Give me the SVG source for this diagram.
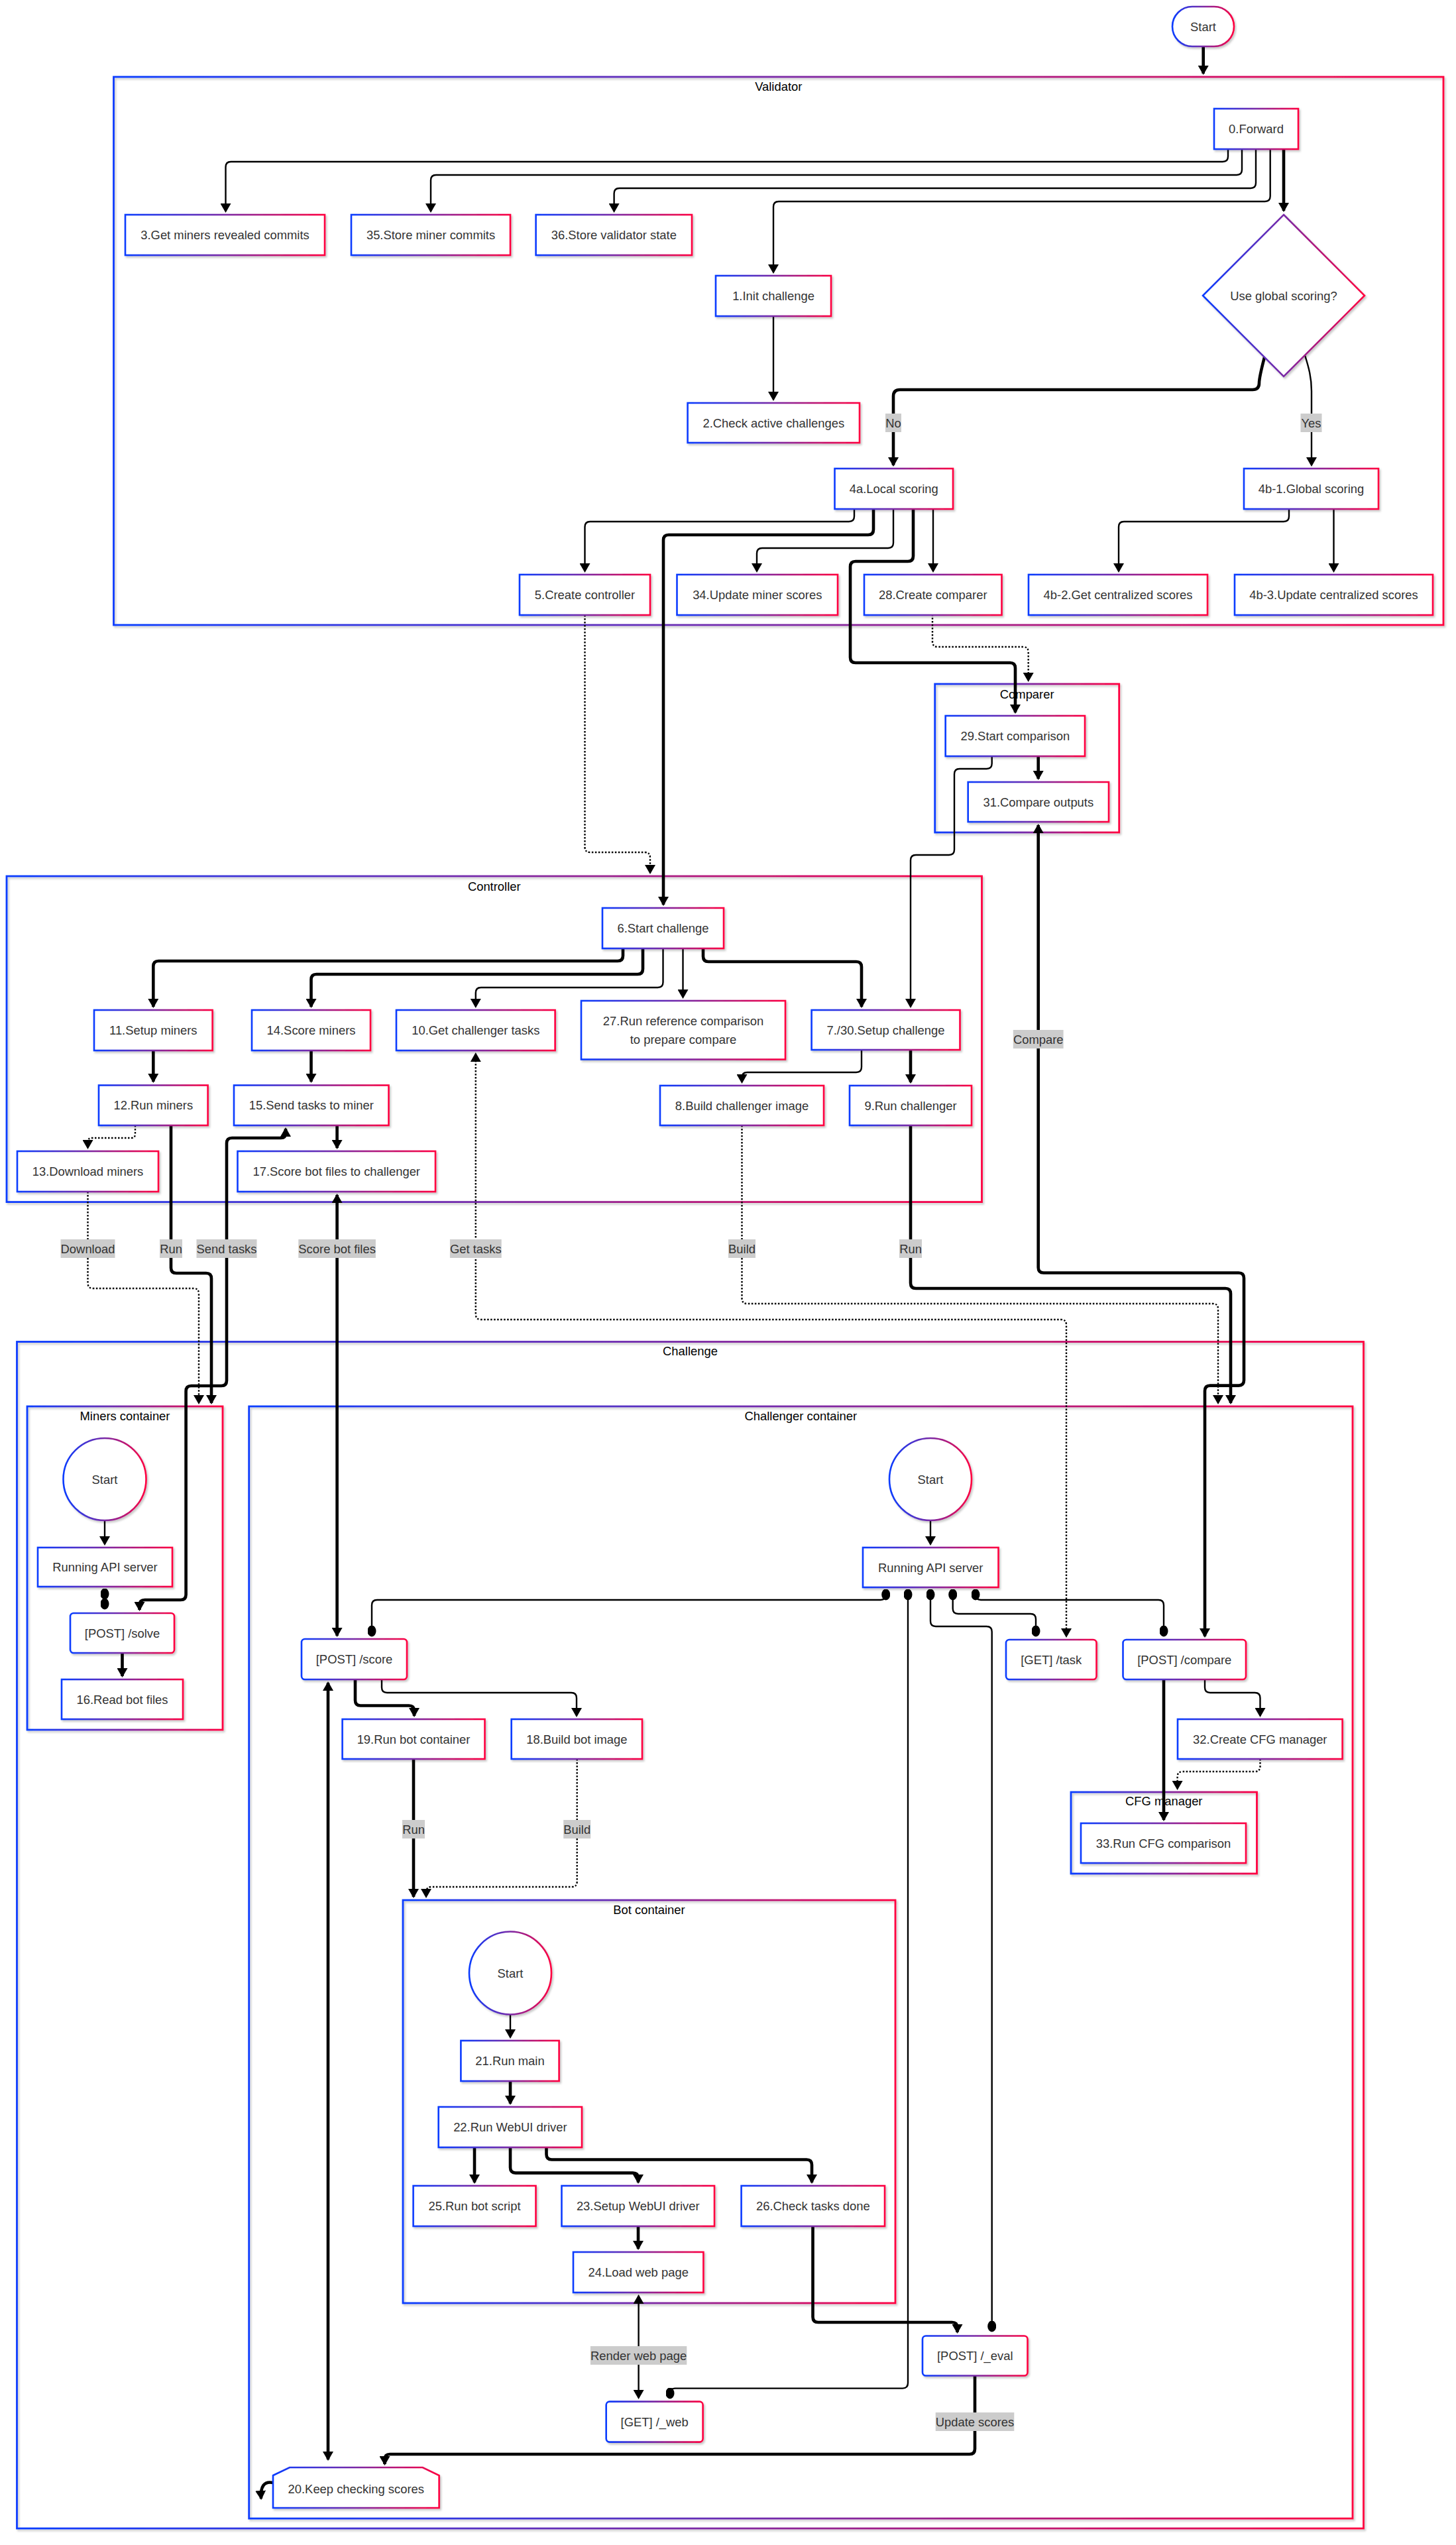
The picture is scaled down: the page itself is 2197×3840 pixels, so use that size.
<svg xmlns="http://www.w3.org/2000/svg" width="2197" height="3840" viewBox="0 0 2197 3840">
<defs>
<linearGradient id="g" x1="0" y1="0" x2="1" y2="0">
<stop offset="0" stop-color="#0a3cff"/>
<stop offset="0.5" stop-color="#7a2aa6"/>
<stop offset="1" stop-color="#ff0040"/>
</linearGradient>
<filter id="sh" x="-5%" y="-5%" width="110%" height="115%">
<feDropShadow dx="2" dy="2.5" stdDeviation="1.5" flood-color="#000" flood-opacity="0.22"/>
</filter>
<marker id="a" viewBox="0 0 14 16" refX="12" refY="8" markerWidth="14" markerHeight="16" markerUnits="userSpaceOnUse" orient="auto-start-reverse">
<path d="M0,0 L14,8 L0,16 Z" fill="#000"/>
</marker>
<marker id="o" viewBox="0 0 17 13" refX="8.5" refY="6.5" markerWidth="17" markerHeight="13" markerUnits="userSpaceOnUse" orient="auto">
<ellipse cx="8.5" cy="6.5" rx="8.5" ry="6.5" fill="#000"/>
</marker>
<style>
.n{fill:#fff;stroke:url(#g);stroke-width:2.6;filter:url(#sh)}
.c{fill:none;stroke:url(#g);stroke-width:2.8;filter:url(#sh)}
.t{font-family:'Liberation Sans',Arial,sans-serif;font-size:18.4px;fill:#333;text-anchor:middle;dominant-baseline:central}
.ct{font-family:'Liberation Sans',Arial,sans-serif;font-size:18.4px;fill:#000;text-anchor:middle;dominant-baseline:central}
.e{fill:none;stroke:#000;stroke-width:2.4}
.k{stroke-width:4.6}
.d{stroke-dasharray:2.5 2.5}
.ar{marker-end:url(#a)}
.ab{marker-start:url(#a);marker-end:url(#a)}
.oo{marker-start:url(#o);marker-end:url(#o)}
.lb{fill:#cccccc}
</style>
</defs>
<rect width="2197" height="3840" fill="#fff"/>

<!-- containers -->
<g id="validator"><rect class="c" x="171.5" y="116" width="2006.5" height="827"/><text class="ct" x="1174.75" y="130">Validator</text></g>
<g id="comparer"><rect class="c" x="1410.7" y="1032" width="278" height="224"/><text class="ct" x="1549.7" y="1047">Comparer</text></g>
<g id="controller"><rect class="c" x="10" y="1322" width="1471.5" height="491.6"/><text class="ct" x="745.75" y="1337">Controller</text></g>
<g id="challenge"><rect class="c" x="25.5" y="2024.5" width="2032" height="1790.5"/><text class="ct" x="1041.5" y="2038">Challenge</text></g>
<g id="miners-container"><rect class="c" x="41" y="2122" width="295" height="488"/><text class="ct" x="188.5" y="2136">Miners container</text></g>
<g id="challenger-container"><rect class="c" x="375.7" y="2122" width="1665.3" height="1678"/><text class="ct" x="1208.35" y="2136">Challenger container</text></g>
<g id="cfg-manager"><rect class="c" x="1616" y="2704" width="280.5" height="123"/><text class="ct" x="1756.25" y="2717.5">CFG manager</text></g>
<g id="bot-container"><rect class="c" x="608" y="2867" width="743" height="608"/><text class="ct" x="979.5" y="2881">Bot container</text></g>

<!-- connectors -->
<g id="connectors">
<path class="e k ar" d="M1815.7,70 V111"/>
<path class="e ar" d="M1853,225 V236 Q1853,244 1845,244 H348.5 Q340.5,244 340.5,252 V319"/>
<path class="e ar" d="M1874,225 V256 Q1874,264 1866,264 H658 Q650,264 650,272 V319"/>
<path class="e ar" d="M1895,225 V276 Q1895,284 1887,284 H934.6 Q926.6,284 926.6,292 V319"/>
<path class="e ar" d="M1916.7,225 V296 Q1916.7,304 1908.7,304 H1175 Q1167,304 1167,312 V411"/>
<path class="e k ar" d="M1937,225 V318"/>
<path class="e ar" d="M1167,477 V603"/>
<path class="e k ar" d="M1908,539 C1903,558 1900,570 1900,578 Q1900,588 1890,588 H1358 Q1348,588 1348,598 V702"/>
<path class="e ar" d="M1969,536 C1975,555 1979,570 1979,590 V702"/>
<path class="e ar" d="M1289,768 V779 Q1289,787 1281,787 H890.5 Q882.5,787 882.5,795 V862"/>
<path class="e k ar" d="M1318,768 V799 Q1318,807 1310,807 H1009 Q1001,807 1001,815 V1365"/>
<path class="e ar" d="M1348,768 V819 Q1348,827 1340,827 H1150 Q1142,827 1142,835 V862"/>
<path class="e k ar" d="M1378,768 V839 Q1378,847 1370,847 H1291 Q1283,847 1283,855 V992 Q1283,1000 1291,1000 H1524 Q1532,1000 1532,1008 V1075"/>
<path class="e ar" d="M1408,768 V862"/>
<path class="e ar" d="M1945,768 V779 Q1945,787 1937,787 H1696 Q1688,787 1688,795 V862"/>
<path class="e ar" d="M2012.5,768 V862"/>
<path class="e d ar" d="M1407,927 V968 Q1407,976 1415,976 H1543.7 Q1551.7,976 1551.7,984 V1027"/>
<path class="e d ar" d="M882.5,928 V1278 Q882.5,1286 890.5,1286 H973 Q981,1286 981,1294 V1317"/>
<path class="e k ar" d="M1566.7,1141 V1175"/>
<path class="e ar" d="M1496.7,1141 V1152 Q1496.7,1160 1488.7,1160 H1448 Q1440,1160 1440,1168 V1282 Q1440,1290 1432,1290 H1382 Q1374,1290 1374,1298 V1519"/>
<path class="e k ar" d="M940,1431 V1442 Q940,1450 932,1450 H239.3 Q231.3,1450 231.3,1458 V1519"/>
<path class="e k ar" d="M970,1431 V1462 Q970,1470 962,1470 H477.5 Q469.5,1470 469.5,1478 V1519"/>
<path class="e ar" d="M1000.5,1431 V1482 Q1000.5,1490 992.5,1490 H725.8 Q717.8,1490 717.8,1498 V1519"/>
<path class="e ar" d="M1030.5,1431 V1505"/>
<path class="e k ar" d="M1061,1431 V1443 Q1061,1451 1069,1451 H1292 Q1300,1451 1300,1459 V1519"/>
<path class="e ar" d="M1300,1584 V1610 Q1300,1618 1292,1618 H1127.5 Q1119.5,1618 1119.5,1626 V1633"/>
<path class="e k ar" d="M1374,1584 V1633"/>
<path class="e k ar" d="M231.3,1585 V1632"/>
<path class="e d ar" d="M204,1698 V1711 Q204,1717 198,1717 H138.5 Q132.5,1717 132.5,1723 V1732"/>
<path class="e k ar" d="M469.5,1585 V1632"/>
<path class="e k ar" d="M508.6,1698 V1732"/>
<path class="e d ar" d="M132.5,1798 V1936 Q132.5,1944 140.5,1944 H292 Q300,1944 300,1952 V2117"/>
<path class="e k ar" d="M258,1698 V1913 Q258,1921 266,1921 H311 Q319,1921 319,1929 V2117"/>
<path class="e k ab" d="M431,1703 V1710 Q431,1717 424,1717 H350 Q342,1717 342,1725 V2083 Q342,2091 334,2091 H288.6 Q280.6,2091 280.6,2099 V2406 Q280.6,2414 272.6,2414 H218.5 Q210.5,2414 210.5,2422 V2429"/>
<path class="e k ab" d="M508.6,1803 V2468"/>
<path class="e d ab" d="M717.8,1590 V1983 Q717.8,1991 725.8,1991 H1601 Q1609,1991 1609,1999 V2469"/>
<path class="e d ar" d="M1119.5,1698 V1959 Q1119.5,1967 1127.5,1967 H1830 Q1838,1967 1838,1975 V2117"/>
<path class="e k ar" d="M1374,1698 V1936 Q1374,1944 1382,1944 H1849 Q1857,1944 1857,1952 V2117"/>
<path class="e k ab" d="M1566.7,1245 V1912.5 Q1566.7,1920.5 1574.7,1920.5 H1869 Q1877,1920.5 1877,1928.5 V2082.6 Q1877,2090.6 1869,2090.6 H1826 Q1818,2090.6 1818,2098.6 V2469"/>
<path class="e ar" d="M158,2294 V2330"/>
<path class="e oo" d="M158,2405 V2420"/>
<path class="e k ar" d="M184.5,2494 V2529"/>
<path class="e ar" d="M1404,2294 V2330"/>
<path class="e oo" d="M1336.7,2406 Q1336.7,2414 1328.7,2414 H569 Q561,2414 561,2422 V2461"/>
<path class="e oo" d="M1370,2406 V3595.6 Q1370,3603.6 1362,3603.6 H1019 Q1011,3603.6 1011,3611"/>
<path class="e oo" d="M1404,2406 V2446 Q1404,2454 1412,2454 H1488.7 Q1496.7,2454 1496.7,2462 V3510"/>
<path class="e oo" d="M1437.7,2406 V2427 Q1437.7,2435 1445.7,2435 H1555 Q1563,2435 1563,2443 V2461"/>
<path class="e oo" d="M1472,2406 Q1472,2414 1480,2414 H1748 Q1756,2414 1756,2422 V2461"/>
<path class="e ar" d="M1818,2534 V2546 Q1818,2554 1826,2554 H1893.5 Q1901.5,2554 1901.5,2562 V2589"/>
<path class="e k ar" d="M1756,2534 V2746"/>
<path class="e d ar" d="M1901.5,2654 V2665 Q1901.5,2673 1893.5,2673 H1784.6 Q1776.6,2673 1776.6,2681 V2699"/>
<path class="e k ar" d="M536,2534 V2565.5 Q536,2573.5 544,2573.5 H617 Q625,2573.5 625,2581.5 V2589"/>
<path class="e ar" d="M576,2534 V2546 Q576,2554 584,2554 H862 Q870,2554 870,2562 V2589"/>
<path class="e k ar" d="M624,2654 V2862"/>
<path class="e d ar" d="M870.7,2654 V2839 Q870.7,2847 862.7,2847 H651 Q643,2847 643,2855 V2862"/>
<path class="e k ab" d="M495,2539 V3711"/>
<path class="e ar" d="M770,3040 V3074"/>
<path class="e k ar" d="M770,3140 V3174"/>
<path class="e k ar" d="M716,3240 V3293"/>
<path class="e k ar" d="M770,3240 V3270.6 Q770,3278.6 778,3278.6 H955 Q963,3278.6 963,3286.6 V3293"/>
<path class="e k ar" d="M824.5,3240 V3250.5 Q824.5,3258.5 832.5,3258.5 H1217 Q1225,3258.5 1225,3266.5 V3293"/>
<path class="e k ar" d="M963,3359 V3393"/>
<path class="e ab" d="M963.6,3464 V3618"/>
<path class="e k ar" d="M1226.5,3359 V3496 Q1226.5,3504 1234.5,3504 H1436.5 Q1444.5,3504 1444.5,3512 V3519"/>
<path class="e k ar" d="M1471,3584.5 V3695 Q1471,3703 1463,3703 H588.5 Q580.5,3703 580.5,3711 V3718"/>
<path class="e k ar" d="M412,3746 Q392,3742 394,3770"/>
</g>

<!-- edge labels -->
<g id="edge-labels">
<rect class="lb" x="1336" y="624" width="24" height="28"/><text class="t" x="1348" y="638">No</text>
<rect class="lb" x="1962.5" y="624" width="32" height="28"/><text class="t" x="1978.5" y="638">Yes</text>
<rect class="lb" x="91.5" y="1870" width="82" height="28"/><text class="t" x="132.5" y="1884">Download</text>
<rect class="lb" x="241" y="1870" width="34" height="28"/><text class="t" x="258" y="1884">Run</text>
<rect class="lb" x="296.5" y="1870" width="91" height="28"/><text class="t" x="342" y="1884">Send tasks</text>
<rect class="lb" x="450.3" y="1870" width="116.6" height="28"/><text class="t" x="508.6" y="1884">Score bot files</text>
<rect class="lb" x="678.9" y="1870" width="77.8" height="28"/><text class="t" x="717.8" y="1884">Get tasks</text>
<rect class="lb" x="1099" y="1870" width="41" height="28"/><text class="t" x="1119.5" y="1884">Build</text>
<rect class="lb" x="1357" y="1870" width="34" height="28"/><text class="t" x="1374" y="1884">Run</text>
<rect class="lb" x="1528.8" y="1554" width="75.8" height="28"/><text class="t" x="1566.7" y="1568">Compare</text>
<rect class="lb" x="607" y="2746" width="34" height="28"/><text class="t" x="624" y="2760">Run</text>
<rect class="lb" x="850.2" y="2746" width="41" height="28"/><text class="t" x="870.7" y="2760">Build</text>
<rect class="lb" x="890.9" y="3540" width="145.4" height="28"/><text class="t" x="963.6" y="3554">Render web page</text>
<rect class="lb" x="1411.7" y="3640" width="118.6" height="28"/><text class="t" x="1471" y="3654">Update scores</text>
</g>

<!-- nodes -->
<g id="start"><rect class="n" x="1769" y="10" width="93" height="60" rx="30"/><text class="t" x="1815.5" y="40">Start</text></g>
<g id="n0"><rect class="n" x="1832" y="164" width="127" height="61"/><text class="t" x="1895.5" y="194.5">0.Forward</text></g>
<g id="decision"><polygon class="n" points="1937,324 2059,446 1937,568 1815,446"/><text class="t" x="1937" y="446">Use global scoring?</text></g>
<g id="n3"><rect class="n" x="189" y="324" width="301" height="61"/><text class="t" x="339.5" y="354.5">3.Get miners revealed commits</text></g>
<g id="n35"><rect class="n" x="530" y="324" width="240" height="61"/><text class="t" x="650" y="354.5">35.Store miner commits</text></g>
<g id="n36"><rect class="n" x="808.6" y="324" width="235.4" height="61"/><text class="t" x="926.3" y="354.5">36.Store validator state</text></g>
<g id="n1"><rect class="n" x="1080" y="416" width="174" height="61"/><text class="t" x="1167" y="446.5">1.Init challenge</text></g>
<g id="n2"><rect class="n" x="1037.6" y="608" width="259.4" height="60"/><text class="t" x="1167.3" y="638">2.Check active challenges</text></g>
<g id="n4a"><rect class="n" x="1259.5" y="707" width="178.5" height="61"/><text class="t" x="1348.75" y="737.5">4a.Local scoring</text></g>
<g id="n4b1"><rect class="n" x="1877" y="707" width="203" height="61"/><text class="t" x="1978.5" y="737.5">4b-1.Global scoring</text></g>
<g id="n5"><rect class="n" x="784" y="867" width="197" height="61"/><text class="t" x="882.5" y="897.5">5.Create controller</text></g>
<g id="n34"><rect class="n" x="1021.5" y="867" width="242.5" height="61"/><text class="t" x="1142.75" y="897.5">34.Update miner scores</text></g>
<g id="n28"><rect class="n" x="1304" y="867" width="207.5" height="61"/><text class="t" x="1407.75" y="897.5">28.Create comparer</text></g>
<g id="n4b2"><rect class="n" x="1552" y="867" width="270" height="61"/><text class="t" x="1687" y="897.5">4b-2.Get centralized scores</text></g>
<g id="n4b3"><rect class="n" x="1863" y="867" width="299" height="61"/><text class="t" x="2012.5" y="897.5">4b-3.Update centralized scores</text></g>
<g id="n29"><rect class="n" x="1426.7" y="1080" width="210.3" height="61"/><text class="t" x="1531.85" y="1110.5">29.Start comparison</text></g>
<g id="n31"><rect class="n" x="1460.7" y="1180" width="212.3" height="60"/><text class="t" x="1566.85" y="1210">31.Compare outputs</text></g>
<g id="n6"><rect class="n" x="909" y="1370" width="183" height="61"/><text class="t" x="1000.5" y="1400.5">6.Start challenge</text></g>
<g id="n11"><rect class="n" x="142" y="1524" width="178.6" height="61"/><text class="t" x="231.3" y="1554.5">11.Setup miners</text></g>
<g id="n14"><rect class="n" x="380" y="1524" width="179" height="61"/><text class="t" x="469.5" y="1554.5">14.Score miners</text></g>
<g id="n10"><rect class="n" x="598" y="1524" width="239.6" height="61"/><text class="t" x="717.8" y="1554.5">10.Get challenger tasks</text></g>
<g id="n27"><rect class="n" x="877" y="1510" width="308" height="88.5"/><text class="t" x="1031" y="1540">27.Run reference comparison</text><text class="t" x="1031" y="1568">to prepare compare</text></g>
<g id="n7"><rect class="n" x="1224.6" y="1524" width="223.9" height="60"/><text class="t" x="1336.5" y="1554">7./30.Setup challenge</text></g>
<g id="n12"><rect class="n" x="149" y="1637.5" width="164.6" height="60.5"/><text class="t" x="231.3" y="1667.75">12.Run miners</text></g>
<g id="n15"><rect class="n" x="353" y="1637.5" width="233.5" height="60.5"/><text class="t" x="469.75" y="1667.75">15.Send tasks to miner</text></g>
<g id="n8"><rect class="n" x="996" y="1638" width="247" height="60"/><text class="t" x="1119.5" y="1668">8.Build challenger image</text></g>
<g id="n9"><rect class="n" x="1282" y="1638" width="184" height="60"/><text class="t" x="1374" y="1668">9.Run challenger</text></g>
<g id="n13"><rect class="n" x="26" y="1737" width="213" height="61"/><text class="t" x="132.5" y="1767.5">13.Download miners</text></g>
<g id="n17"><rect class="n" x="358.5" y="1737" width="298.5" height="61"/><text class="t" x="507.75" y="1767.5">17.Score bot files to challenger</text></g>

<g id="miners-start"><ellipse class="n" cx="158" cy="2232" rx="62.5" ry="62"/><text class="t" x="158" y="2232">Start</text></g>
<g id="miners-api"><rect class="n" x="57" y="2335" width="203" height="59"/><text class="t" x="158.5" y="2364.5">Running API server</text></g>
<g id="miners-solve"><rect class="n" x="106" y="2434" width="157" height="60" rx="5"/><text class="t" x="184.5" y="2464">[POST] /solve</text></g>
<g id="n16"><rect class="n" x="93" y="2534" width="183" height="60"/><text class="t" x="184.5" y="2564">16.Read bot files</text></g>

<g id="challenger-start"><ellipse class="n" cx="1404" cy="2232" rx="62" ry="62"/><text class="t" x="1404" y="2232">Start</text></g>
<g id="challenger-api"><rect class="n" x="1302" y="2335" width="204.5" height="60"/><text class="t" x="1404.25" y="2365">Running API server</text></g>
<g id="post-score"><rect class="n" x="455" y="2473" width="159" height="61" rx="5"/><text class="t" x="534.5" y="2503.5">[POST] /score</text></g>
<g id="get-task"><rect class="n" x="1518" y="2474" width="136.5" height="60" rx="5"/><text class="t" x="1586.25" y="2504">[GET] /task</text></g>
<g id="post-compare"><rect class="n" x="1694.5" y="2474" width="185.5" height="60" rx="5"/><text class="t" x="1787.25" y="2504">[POST] /compare</text></g>
<g id="n19"><rect class="n" x="516.6" y="2594" width="214.9" height="60"/><text class="t" x="624" y="2624">19.Run bot container</text></g>
<g id="n18"><rect class="n" x="771.7" y="2594" width="197.3" height="60"/><text class="t" x="870.35" y="2624">18.Build bot image</text></g>
<g id="n32"><rect class="n" x="1777" y="2594" width="248.6" height="60"/><text class="t" x="1901.3" y="2624">32.Create CFG manager</text></g>
<g id="n33"><rect class="n" x="1631" y="2751" width="249" height="60"/><text class="t" x="1755.5" y="2781">33.Run CFG comparison</text></g>

<g id="bot-start"><ellipse class="n" cx="770" cy="2977" rx="62" ry="62.5"/><text class="t" x="770" y="2977">Start</text></g>
<g id="n21"><rect class="n" x="695.4" y="3079" width="148.2" height="61"/><text class="t" x="769.5" y="3109.5">21.Run main</text></g>
<g id="n22"><rect class="n" x="661.7" y="3179" width="216.3" height="61"/><text class="t" x="769.85" y="3209.5">22.Run WebUI driver</text></g>
<g id="n25"><rect class="n" x="623.6" y="3298" width="184.9" height="61"/><text class="t" x="716" y="3328.5">25.Run bot script</text></g>
<g id="n23"><rect class="n" x="847.5" y="3298" width="230.5" height="61"/><text class="t" x="962.75" y="3328.5">23.Setup WebUI driver</text></g>
<g id="n26"><rect class="n" x="1118.6" y="3298" width="216.4" height="61"/><text class="t" x="1226.8" y="3328.5">26.Check tasks done</text></g>
<g id="n24"><rect class="n" x="865" y="3398" width="196.4" height="61"/><text class="t" x="963.2" y="3428.5">24.Load web page</text></g>

<g id="post-eval"><rect class="n" x="1392" y="3524.5" width="158.5" height="60" rx="5"/><text class="t" x="1471.25" y="3554.5">[POST] /_eval</text></g>
<g id="get-web"><rect class="n" x="914.7" y="3623.6" width="145.9" height="61" rx="5"/><text class="t" x="987.65" y="3654">[GET] /_web</text></g>
<g id="n20"><polygon class="n" points="412,3735 437,3723 637.7,3723 662.6,3735 662.6,3784 412,3784"/><text class="t" x="537.3" y="3755">20.Keep checking scores</text></g>
</svg>
